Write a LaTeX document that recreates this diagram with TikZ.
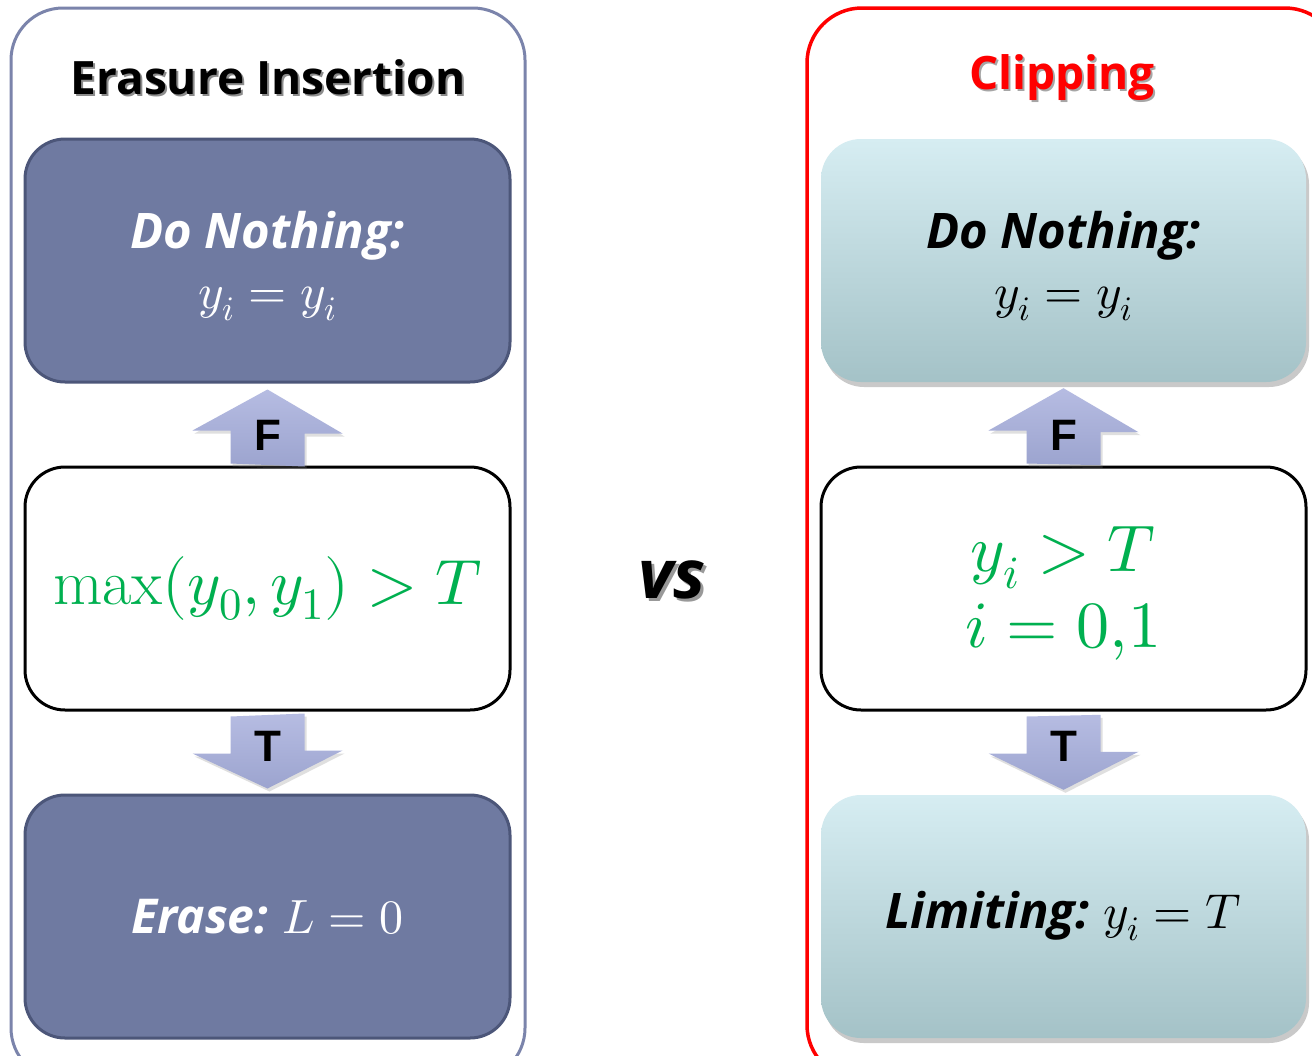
\documentclass[tikz,border=0pt]{standalone}
\usepackage{fontspec}
\usepackage{unicode-math}
\setmathfont{Latin Modern Math}
\newfontfamily\hfont{Open Sans}
\newfontfamily\lfont{Liberation Sans}
\usetikzlibrary{shadows}
\definecolor{panelL}{HTML}{7B84AB}
\definecolor{darkfill}{HTML}{6F7AA1}
\definecolor{darkedge}{HTML}{4C5679}
\definecolor{lighttop}{HTML}{D6EDF2}
\definecolor{lightbot}{HTML}{A4C2C7}
\definecolor{arrtop}{HTML}{B6BCE2}
\definecolor{arrbot}{HTML}{9CA4CF}
\definecolor{condgreen}{HTML}{00B050}
\definecolor{clipred}{HTML}{FF0000}
\newcommand{\bitxt}[1]{{\hfont\bfseries\itshape #1}}
\tikzset{
  box/.style={rounded corners=40pt, minimum width=485pt, minimum height=243pt, align=center, inner sep=0pt},
  darkbox/.style={box, fill=darkfill, draw=darkedge, line width=3pt, text=white},
  lightbox/.style={box, top color=lighttop, bottom color=lightbot, draw=none,
     drop shadow={shadow xshift=3pt, shadow yshift=-5pt, opacity=0.35, fill=black!60}},
  condbox/.style={box, fill=white, draw=black, line width=3pt, text=condgreen},
  blockarrow/.style={top color=arrtop, bottom color=arrbot, draw=none,
     drop shadow={shadow xshift=2pt, shadow yshift=-3pt, opacity=0.25}},
  arrlabel/.style={font=\lfont\bfseries\fontsize{44}{44}\selectfont, text=black, inner sep=0pt},
  heading/.style={font=\hfont\bfseries\fontsize{46}{46}\selectfont, inner sep=0pt},
  twoline/.style={font=\fontsize{49}{60}\selectfont}
}
\begin{document}
\begin{tikzpicture}[x=1pt,y=-1pt]
\useasboundingbox (0,0) rectangle (1312,1055);
\clip (0,0) rectangle (1312,1055);
\fill[white] (0,0) rectangle (1312,1055);
% panels
\draw[panelL, line width=3pt, rounded corners=52pt] (11,8) rectangle (525,1080);
\draw[clipred, line width=3.5pt, rounded corners=55pt] (807,8) rectangle (1340,1080);
% titles
\node[heading, text=black!45] at (270,79) {Erasure Insertion};
\node[heading, text=black] (tL) at (268,77) {Erasure Insertion};
\node[heading, text=black!35] at (1064,80) {Clipping};
\node[heading, text=clipred] (tR) at (1062,78) {Clipping};
% left boxes
\node[darkbox] (l1) at (267.5,260.5) {};
\node[twoline, text=white, align=center] (l1t) at (267.5,266) {\bitxt{Do Nothing:}\\$y_i = y_i$};
\node[condbox] (l2) at (267.5,588.5) {\fontsize{64}{64}\selectfont$\max(y_0,y_1) > T$};
\node[darkbox, font=\fontsize{48}{48}\selectfont] (l3) at (267.5,916.5) {\bitxt{Erase:}\ $L = 0$};
% right boxes
\node[lightbox] (r1) at (1063.5,260.5) {};
\node[twoline, align=center] (r1t) at (1063.5,266) {\bitxt{Do Nothing:}\\$y_i = y_i$};
\node[condbox] (r2) at (1063.5,588.5) {};
\node[font=\fontsize{66}{76}\selectfont, text=condgreen, align=center] (r2t) at (1063.5,594) {$y_i > T$\\$i = 0{,}1$};
\node[lightbox, font=\fontsize{49}{49}\selectfont] (r3) at (1063.5,916.5) {\bitxt{Limiting:}\ $y_i = T$};
% vs
\node[font=\hfont\bfseries\itshape\fontsize{68}{68}\selectfont, text=black!40] at (675,583) {vs};
\node[font=\hfont\bfseries\itshape\fontsize{68}{68}\selectfont] (vs) at (672,580) {vs};
% F arrows (up) and T arrows (down)
\foreach \b in {l,r}{
  \path[blockarrow] ([xshift=-37pt,yshift=2pt]\b2.north) -- ++(0,-33) -- ++(-38,0) -- ([yshift=-6pt]\b1.south) -- ++(75,44) -- ++(-38,0) -- ++(0,33) -- cycle;
  \node[arrlabel] at ([yshift=30pt]\b2.north) {F};
  \path[blockarrow] ([xshift=-37pt,yshift=-5pt]\b2.south) -- ++(0,37) -- ++(-38,0) -- ([yshift=5pt]\b3.north) -- ++(75,-38) -- ++(-38,0) -- ++(0,-37) -- cycle;
  \node[arrlabel] at ([yshift=-35pt]\b2.south) {T};
}
\end{tikzpicture}
\end{document}
